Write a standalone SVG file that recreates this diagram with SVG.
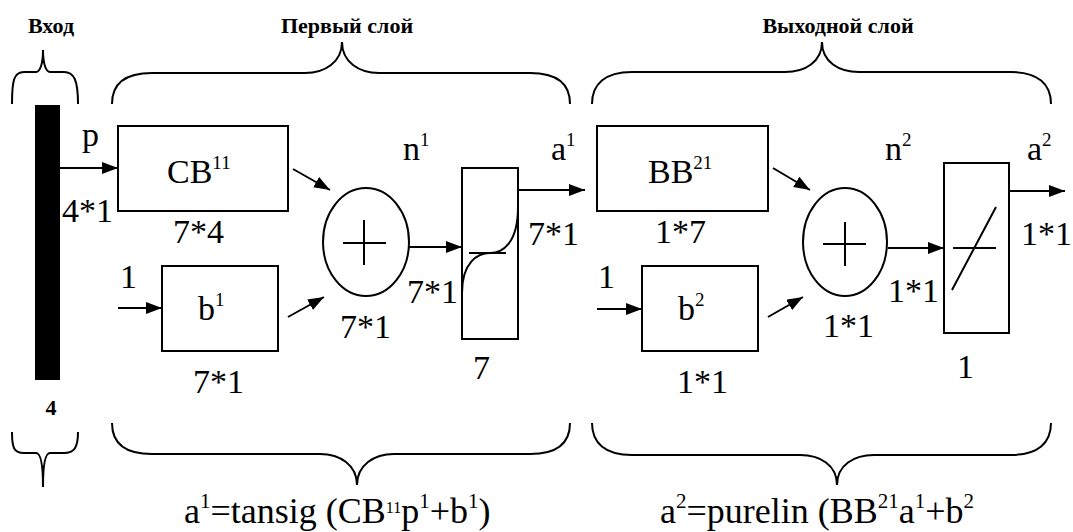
<svg xmlns="http://www.w3.org/2000/svg" width="1073" height="532" viewBox="0 0 1073 532" font-family="Liberation Serif, DejaVu Serif, serif">
<style>
text{font-family:"Liberation Serif","DejaVu Serif",serif}
.t{font-size:34px;fill:#000}
.h{font-size:22px;font-weight:bold;fill:#000}
.f{font-size:36px;fill:#000}
.box{fill:#fff;stroke:#000;stroke-width:2}
.ln{fill:none;stroke:#000;stroke-width:2}
.br{fill:none;stroke:#000;stroke-width:2}
.ar{fill:none;stroke:#000;stroke-width:2;marker-end:url(#ah)}
</style>
<defs>
<marker id="ah" markerUnits="userSpaceOnUse" markerWidth="16" markerHeight="12" refX="16" refY="6" orient="auto">
<path d="M0,0 L16,6 L0,12 z" fill="#000"/>
</marker>
</defs>
<rect width="1073" height="532" fill="#fff"/>

<g id="braces">
<path class="br" d="M12,104 C12,80 14,72 24,72 L36,72 C40,72 43,64 43,50 C43,64 46,72 50,72 L64,72 C74,72 78,80 78,104"/>
<path class="br" d="M12,432 C12,448 14,453 24,453 L36,453 C40,453 43,462 43,487 C43,462 46,453 50,453 L64,453 C74,453 78,448 78,432"/>
<path class="br" d="M112,104 C112,84 125,73 152,73 L305,73 C325,73 342,62 342,42 C342,62 359,73 379,73 L530,73 C557,73 570,84 570,104"/>
<path class="br" d="M112,423 C112,443 125,454 152,454 L320,454 C340,454 357,465 357,485 C357,465 374,454 394,454 L530,454 C557,454 570,443 570,423"/>
<path class="br" d="M592,104 C592,84 605,72 632,72 L785,72 C805,72 822,62 822,42 C822,62 839,72 859,72 L1011,72 C1038,72 1051,84 1051,104"/>
<path class="br" d="M592,423 C592,443 605,455 632,455 L800,455 C820,455 837,465 837,485 C837,465 854,455 874,455 L1011,455 C1038,455 1051,443 1051,423"/>
</g>

<g id="headers">
<text class="h" x="51" y="33" text-anchor="middle" font-family="Liberation Serif">Вход</text>
<text class="h" x="347" y="33" text-anchor="middle" font-family="Liberation Serif">Первый слой</text>
<text class="h" x="838" y="33" text-anchor="middle" font-family="Liberation Serif">Выходной слой</text>
</g>

<g id="input">
<rect x="35" y="105" width="25" height="275" fill="#000"/>
<text class="h" x="51" y="415" text-anchor="middle">4</text>
<text class="t" x="82" y="146">p</text>
<text class="t" x="62" y="222">4*1</text>
</g>

<g id="cb">
<rect class="box" x="118" y="126" width="170" height="85"/>
<text class="t" x="167" y="183">CB<tspan font-size="19" dy="-14">11</tspan></text>
<text class="t" x="173" y="243">7*4</text>
</g>

<g id="b1">
<text class="t" x="120" y="288">1</text>
<rect class="box" x="162" y="266" width="116" height="85"/>
<text class="t" x="198" y="320">b<tspan font-size="19" dy="-14">1</tspan></text>
<text class="t" x="193" y="393">7*1</text>
</g>

<g id="sum1">
<ellipse class="ln" cx="366" cy="242" rx="43" ry="54"/>
<path class="ln" d="M343,243 H386 M364,220 V265"/>
<text class="t" x="403" y="160">n<tspan font-size="19" dy="-14">1</tspan></text>
<text class="t" x="340" y="338">7*1</text>
</g>

<g id="tansig">
<rect class="box" x="462" y="168" width="56" height="171"/>
<path class="ln" d="M462,293 C462,262 478,253 490,253 C502,253 518,244 518,207"/>
<path class="ln" d="M469,253 H506"/>
<text class="t" x="407" y="303">7*1</text>
<text class="t" x="528" y="245">7*1</text>
<text class="t" x="473" y="379">7</text>
<text class="t" x="551" y="160">a<tspan font-size="19" dy="-14">1</tspan></text>
</g>

<g id="bb">
<rect class="box" x="597" y="126" width="171" height="85"/>
<text class="t" x="648" y="183">BB<tspan font-size="19" dy="-14">21</tspan></text>
<text class="t" x="655" y="243">1*7</text>
</g>

<g id="b2">
<text class="t" x="598" y="288">1</text>
<rect class="box" x="642" y="266" width="116" height="85"/>
<text class="t" x="678" y="320">b<tspan font-size="19" dy="-14">2</tspan></text>
<text class="t" x="677" y="393">1*1</text>
</g>

<g id="sum2">
<ellipse class="ln" cx="845" cy="242" rx="42" ry="54"/>
<path class="ln" d="M823,244 H866 M845,222 V266"/>
<text class="t" x="885" y="160">n<tspan font-size="19" dy="-14">2</tspan></text>
<text class="t" x="823" y="337">1*1</text>
</g>

<g id="purelin">
<rect class="box" x="944" y="163" width="65" height="170"/>
<path class="ln" d="M996,207 L952,290 M953,248 H996"/>
<text class="t" x="888" y="302">1*1</text>
<text class="t" x="1072" y="245" text-anchor="end">1*1</text>
<text class="t" x="957" y="378">1</text>
<text class="t" x="1027" y="160">a<tspan font-size="19" dy="-14">2</tspan></text>
</g>

<g id="connectors">
<line class="ar" x1="60" y1="168" x2="118" y2="168"/>
<line class="ar" x1="293" y1="169" x2="330" y2="190"/>
<line class="ar" x1="118" y1="308" x2="162" y2="308"/>
<line class="ar" x1="288" y1="317" x2="324" y2="297"/>
<line class="ar" x1="408" y1="247" x2="462" y2="247"/>
<line class="ar" x1="518" y1="190" x2="585" y2="190"/>
<line class="ar" x1="773" y1="168" x2="810" y2="190"/>
<line class="ar" x1="597" y1="309" x2="642" y2="309"/>
<line class="ar" x1="768" y1="317" x2="803" y2="297"/>
<line class="ar" x1="888" y1="248" x2="944" y2="248"/>
<line class="ar" x1="1009" y1="191" x2="1065" y2="191"/>
</g>

<g id="formulas">
<text class="f" x="184" y="523">a<tspan font-size="21" dy="-15">1</tspan><tspan dy="15">=tansig (CB</tspan><tspan font-size="16" dy="-10">11</tspan><tspan dy="10">p</tspan><tspan font-size="21" dy="-15">1</tspan><tspan dy="15">+b</tspan><tspan font-size="21" dy="-15">1</tspan><tspan dy="15">)</tspan></text>
<text class="f" x="660" y="523">a<tspan font-size="21" dy="-15">2</tspan><tspan dy="15">=purelin (BB</tspan><tspan font-size="21" dy="-15">21</tspan><tspan dy="15">a</tspan><tspan font-size="21" dy="-15">1</tspan><tspan dy="15">+b</tspan><tspan font-size="21" dy="-15">2</tspan></text>
</g>
</svg>
